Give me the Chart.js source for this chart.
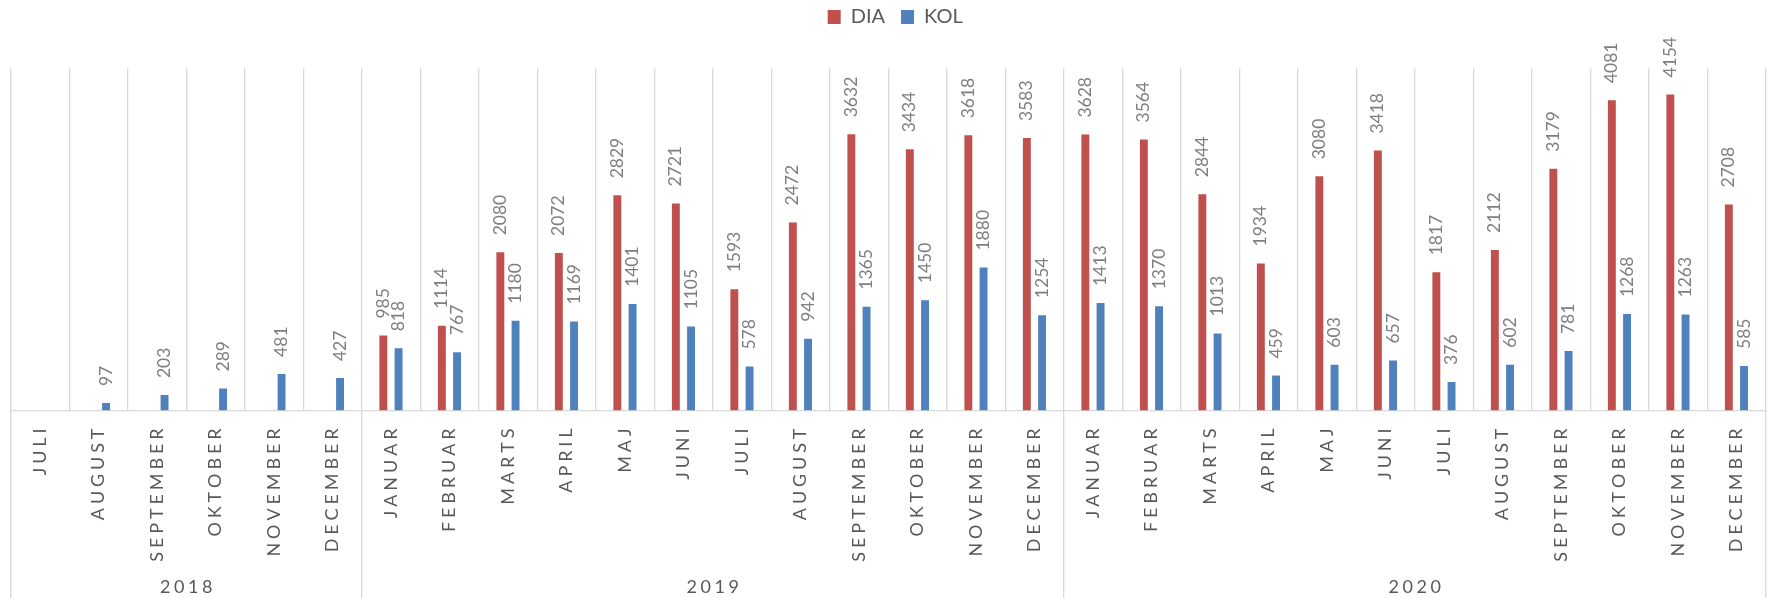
<!DOCTYPE html>
<html>
<head>
<meta charset="utf-8">
<script src="https://cdn.jsdelivr.net/npm/chart.js@4/dist/chart.umd.min.js"></script>
<style>
  html, body { margin: 0; padding: 0; background: #fff; }
  #wrap { width: 1771px; height: 598px; position: relative; }
</style>
</head>
<body>
<div id="wrap"><canvas id="chart"></canvas></div>
<script>
const months = [
    'JULI', 'AUGUST', 'SEPTEMBER', 'OKTOBER', 'NOVEMBER', 'DECEMBER',
    'JANUAR', 'FEBRUAR', 'MARTS', 'APRIL', 'MAJ', 'JUNI', 'JULI', 'AUGUST', 'SEPTEMBER', 'OKTOBER', 'NOVEMBER', 'DECEMBER',
    'JANUAR', 'FEBRUAR', 'MARTS', 'APRIL', 'MAJ', 'JUNI', 'JULI', 'AUGUST', 'SEPTEMBER', 'OKTOBER', 'NOVEMBER', 'DECEMBER'
];
const years = ['2018', '2019', '2020'];
const yearStarts = [0, 6, 18, 30];

const dia = [
    null, null, null, null, null, null,
    985, 1114, 2080, 2072, 2829, 2721, 1593, 2472, 3632, 3434, 3618, 3583,
    3628, 3564, 2844, 1934, 3080, 3418, 1817, 2112, 3179, 4081, 4154, 2708
];
const kol = [
    null, 97, 203, 289, 481, 427,
    818, 767, 1180, 1169, 1401, 1105, 578, 942, 1365, 1450, 1880, 1254,
    1413, 1370, 1013, 459, 603, 657, 376, 602, 781, 1268, 1263, 585
];

const gridColor = '#d9d9d9';

// letter-spaced text, drawn char by char (canvas letterSpacing is not reliable)
function spacedText(ctx, str, x, y, spacing, align) {
    const widths = [...str].map(ch => ctx.measureText(ch).width);
    const total = widths.reduce((a, b) => a + b, 0) + spacing * (str.length - 1);
    let cur = align === 'right' ? x - total : align === 'center' ? x - total / 2 : x;
    ctx.textAlign = 'left';
    [...str].forEach((ch, i) => {
        ctx.fillText(ch, cur, y);
        cur += widths[i] + spacing;
    });
}

// value labels above each bar, rotated
const barLabels = {
    id: 'barLabels',
    afterDatasetsDraw(chart) {
        const ctx = chart.ctx;
        ctx.save();
        ctx.fillStyle = '#7f7f7f';
        ctx.font = '17.5px Lato';
        ctx.textAlign = 'left';
        ctx.textBaseline = 'middle';
        chart.data.datasets.forEach((ds, di) => {
            const meta = chart.getDatasetMeta(di);
            meta.data.forEach((bar, i) => {
                const v = ds.data[i];
                if (v === null || v === undefined) return;
                ctx.save();
                ctx.translate(bar.x, bar.y - 17);
                ctx.rotate(-Math.PI / 2);
                ctx.fillText(String(v), 0, 0);
                ctx.restore();
            });
        });
        ctx.restore();
    }
};

// two level category axis: months rotated, years below
const axisLabels = {
    id: 'axisLabels',
    afterLayout(chart) {
        // nudge legend to the right, like the original
        chart.legend.left += 7;
        chart.legend.right += 7;
    },
    afterDraw(chart) {
        const ctx = chart.ctx;
        const xs = chart.scales.x;
        const base = xs.top;
        const cell = xs.getPixelForValue(1) - xs.getPixelForValue(0);
        const edge = i => xs.getPixelForValue(0) - cell / 2 + i * cell;

        ctx.save();
        ctx.strokeStyle = gridColor;
        ctx.lineWidth = 1.3;
        yearStarts.forEach(i => {
            ctx.beginPath();
            ctx.moveTo(edge(i), base);
            ctx.lineTo(edge(i), chart.height);
            ctx.stroke();
        });

        ctx.fillStyle = '#595959';
        ctx.font = '18px Lato';
        ctx.textBaseline = 'middle';
        months.forEach((m, i) => {
            ctx.save();
            ctx.translate(xs.getPixelForValue(i), base + 18);
            ctx.rotate(-Math.PI / 2);
            spacedText(ctx, m, 0, 0, 3.9, 'right');
            ctx.restore();
        });

        ctx.font = '18px Lato';
        years.forEach((y, k) => {
            const mid = (edge(yearStarts[k]) + edge(yearStarts[k + 1])) / 2;
            spacedText(ctx, y, mid, 587, 3.6, 'center');
        });
        ctx.restore();
    }
};

new Chart(document.getElementById('chart'), {
    type: 'bar',
    data: {
        labels: months,
        datasets: [
            { label: 'DIA', data: dia, backgroundColor: '#c0504d', borderWidth: 0 },
            { label: 'KOL', data: kol, backgroundColor: '#4f81bd', borderWidth: 0 }
        ]
    },
    options: {
        responsive: true,
        maintainAspectRatio: false,
        animation: false,
        layout: { padding: { left: 10.7, right: 5.3, top: -9, bottom: 0 } },
        datasets: { bar: { categoryPercentage: 0.52, barPercentage: 0.52 } },
        scales: {
            x: {
                grid: { offset: true, color: gridColor, lineWidth: 1.3, drawTicks: false },
                border: { color: gridColor, width: 1.3 },
                ticks: { display: false },
                afterFit: s => { s.height = 187.5; }
            },
            xTop: {
                type: 'category',
                position: 'top',
                grid: { display: false },
                border: { display: false },
                ticks: { display: false },
                afterFit: s => { s.height = 31.3; }
            },
            y: { display: false, min: 0, max: 4500 }
        },
        plugins: {
            legend: {
                position: 'top',
                labels: {
                    font: { family: 'Lato', size: 20 },
                    color: '#595959',
                    boxWidth: 13,
                    boxHeight: 14,
                    padding: 16
                }
            },
            tooltip: { enabled: false }
        }
    },
    plugins: [barLabels, axisLabels]
});
</script>
</body>
</html>
